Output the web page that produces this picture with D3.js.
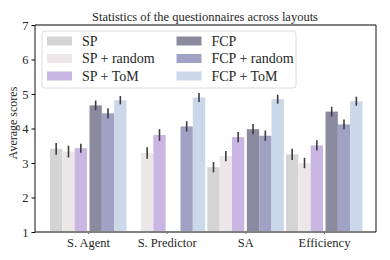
<!DOCTYPE html>
<html>
<head>
<meta charset="utf-8">
<script src="https://cdn.jsdelivr.net/npm/d3@7"></script>
<style>
  body { margin: 0; background: #fff; }
  svg text { font-family: "Liberation Serif", "DejaVu Serif", serif; fill: #262626; }
</style>
</head>
<body>
<div id="chart"></div>
<script>
// categories and series
var categories = ["S. Agent", "S. Predictor", "SA", "Efficiency"];
var seriesNames = ["SP", "SP + random", "SP + ToM", "FCP", "FCP + random", "FCP + ToM"];
var seriesColors = ["#d4d4d4", "#ece6e8", "#c9b6e3", "#8b8a9f", "#a0a2c3", "#cbd8e9"];

// mean scores per series (null = no bar), one entry per category
var spMeans       = [3.41, null, 2.88, 3.25];
var spRandomMeans = [3.33, 3.29, 3.20, 3.00];
var spTomMeans    = [3.43, 3.81, 3.75, 3.51];
var fcpMeans      = [4.67, null, 3.98, 4.49];
var fcpRandMeans  = [4.44, 4.06, 3.79, 4.12];
var fcpTomMeans   = [4.82, 4.90, 4.85, 4.79];

// half-length of the error bars
var spErr       = [0.17, null, 0.15, 0.16];
var spRandomErr = [0.17, 0.17, 0.15, 0.15];
var spTomErr    = [0.13, 0.17, 0.15, 0.15];
var fcpErr      = [0.14, null, 0.15, 0.14];
var fcpRandErr  = [0.15, 0.15, 0.15, 0.14];
var fcpTomErr   = [0.12, 0.13, 0.13, 0.13];

var yTicks = [1, 2, 3, 4, 5, 6, 7];

var means = [spMeans, spRandomMeans, spTomMeans, fcpMeans, fcpRandMeans, fcpTomMeans];
var errs = [spErr, spRandomErr, spTomErr, fcpErr, fcpRandErr, fcpTomErr];

var width = 390, height = 260;
var plotLeft = 35, plotRight = 376, plotTop = 25, plotBottom = 232;

var svg = d3.select("#chart").append("svg")
    .attr("width", width)
    .attr("height", height);

var x = d3.scalePoint()
    .domain(categories)
    .range([88, 324]);

var inner = d3.scaleBand()
    .domain(seriesNames)
    .range([-37, 37]);

var y = d3.scaleLinear()
    .domain([1, 7])
    .range([plotBottom, plotTop]);

// flatten into bar records
var bars = [];
categories.forEach(function(c, ci) {
    seriesNames.forEach(function(s, si) {
        if (means[si][ci] != null) {
            bars.push({cat: c, series: si, name: s, value: means[si][ci], err: errs[si][ci]});
        }
    });
});

// SP family shifted left, FCP family right, leaves a small gap
function barX(d) {
    var shift = d.series < 3 ? -1 : 1.5;
    return x(d.cat) + inner(d.name) + shift;
}

svg.append("g")
    .selectAll("rect")
    .data(bars)
    .enter()
    .append("rect")
    .attr("x", barX)
    .attr("y", function(d) { return y(d.value); })
    .attr("width", inner.bandwidth())
    .attr("height", function(d) { return y(1) - y(d.value); })
    .attr("fill", function(d) { return seriesColors[d.series]; });

svg.append("g")
    .selectAll("line")
    .data(bars)
    .enter()
    .append("line")
    .attr("x1", function(d) { return barX(d) + inner.bandwidth() / 2; })
    .attr("x2", function(d) { return barX(d) + inner.bandwidth() / 2; })
    .attr("y1", function(d) { return y(d.value - d.err); })
    .attr("y2", function(d) { return y(d.value + d.err); })
    .attr("stroke", "#3c3c3c")
    .attr("stroke-width", 1.6);

// y axis
var yAxis = svg.append("g")
    .attr("transform", "translate(" + plotLeft + ",0)")
    .call(d3.axisLeft(y).tickValues(yTicks).tickSize(3.5).tickPadding(3).tickFormat(d3.format("d")));
yAxis.select(".domain").remove();
yAxis.attr("font-family", null);
yAxis.selectAll("text").style("font-size", "12.5px");

// x axis
var xAxis = svg.append("g")
    .attr("transform", "translate(0," + plotBottom + ")")
    .call(d3.axisBottom(x).tickSize(2).tickPadding(4));
xAxis.select(".domain").remove();
xAxis.attr("font-family", null);
xAxis.selectAll("line").attr("stroke", "#666");
xAxis.selectAll("text").style("font-size", "12.5px");

// spines
svg.append("line").attr("x1", plotLeft).attr("x2", plotRight).attr("y1", plotTop).attr("y2", plotTop)
    .attr("stroke", "#808080").attr("stroke-width", 2);
svg.append("line").attr("x1", plotLeft).attr("x2", plotRight).attr("y1", plotBottom).attr("y2", plotBottom)
    .attr("stroke", "#808080").attr("stroke-width", 2);
svg.append("line").attr("x1", plotLeft).attr("x2", plotLeft).attr("y1", plotTop).attr("y2", plotBottom)
    .attr("stroke", "#111").attr("stroke-width", 1);
svg.append("line").attr("x1", plotRight).attr("x2", plotRight).attr("y1", plotTop).attr("y2", plotBottom)
    .attr("stroke", "#111").attr("stroke-width", 1);

// title
svg.append("text")
    .attr("x", 205)
    .attr("y", 21)
    .attr("text-anchor", "middle")
    .style("font-size", "12.5px")
    .text("Statistics of the questionnaires across layouts");

// y label
svg.append("text")
    .attr("transform", "translate(17," + 123 + ") rotate(-90)")
    .attr("text-anchor", "middle")
    .style("font-size", "12px")
    .text("Average scores");

// legend
var legend = svg.append("g");
legend.append("rect")
    .attr("x", 42).attr("y", 31)
    .attr("width", 254).attr("height", 57)
    .attr("rx", 3)
    .attr("fill", "#fff").attr("fill-opacity", 0.8)
    .attr("stroke", "#dcdcdc").attr("stroke-width", 1);

var items = legend.selectAll("g.item")
    .data(seriesNames)
    .enter()
    .append("g")
    .attr("class", "item")
    .attr("transform", function(d, i) {
        var col = Math.floor(i / 3), row = i % 3;
        return "translate(" + (47 + col * 129.5) + "," + (41 + row * 17.5) + ")";
    });
items.append("rect")
    .attr("x", 0).attr("y", -4.5)
    .attr("width", 25).attr("height", 9)
    .attr("fill", function(d, i) { return seriesColors[i]; });
items.append("text")
    .attr("x", 35).attr("y", 4.5)
    .style("font-size", "14px")
    .text(function(d) { return d; });
</script>
</body>
</html>
